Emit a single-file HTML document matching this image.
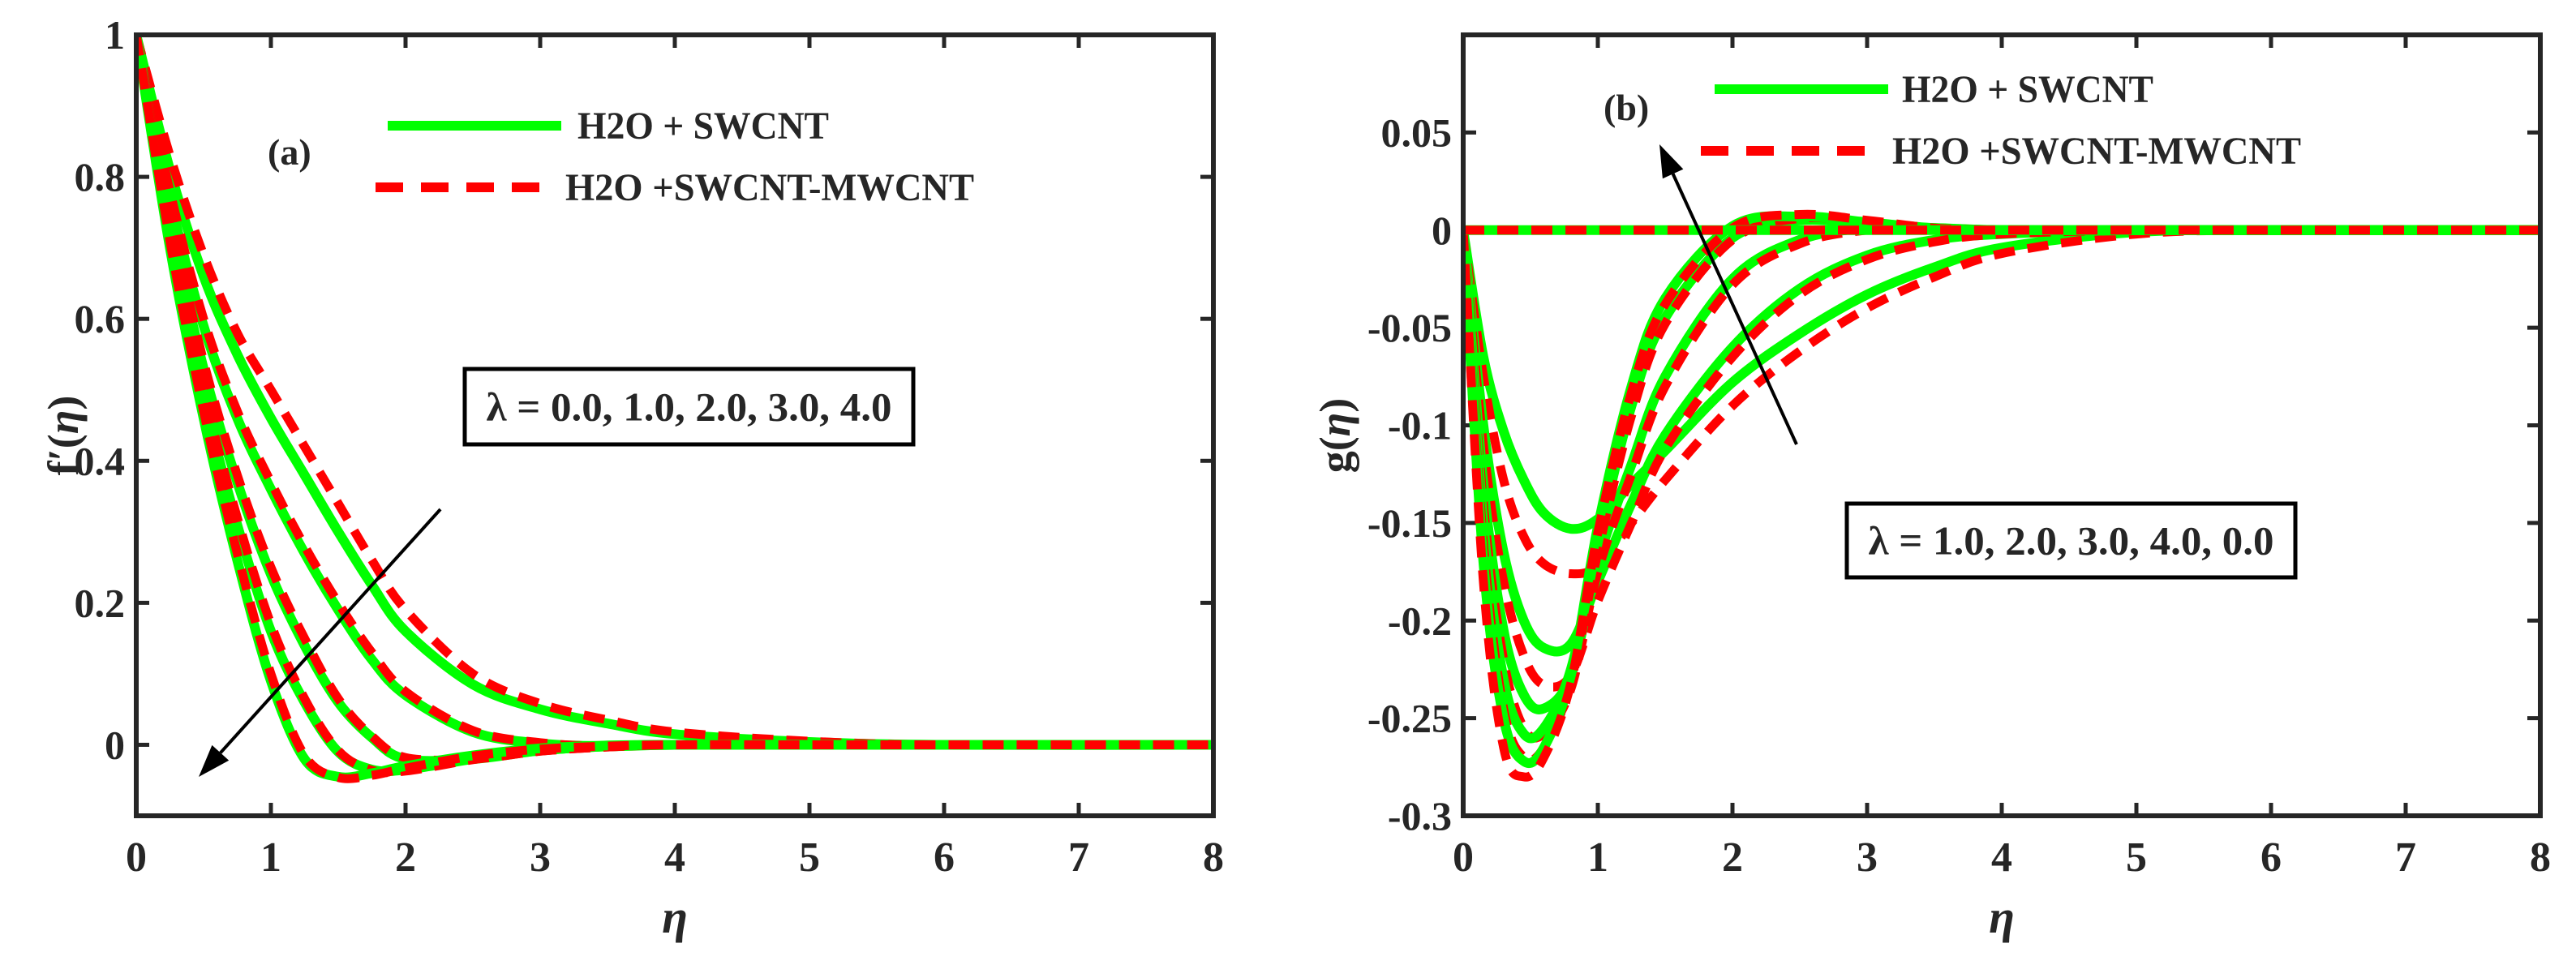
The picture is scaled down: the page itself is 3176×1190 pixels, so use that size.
<!DOCTYPE html>
<html><head><meta charset="utf-8"><style>
html,body{margin:0;padding:0;background:#fff;}
svg{display:block;}
text{font-family:"Liberation Serif",serif;font-weight:bold;fill:#262626;}
</style></head>
<body>
<svg id="fig" width="3176" height="1190" viewBox="0 0 3176 1190" xmlns="http://www.w3.org/2000/svg">
<g id="pa"></g>
<g id="pb"></g>
</svg>
<script>
// ---- Panel (a) data ----
const etaA = [0,0.25,0.5,0.75,1,1.25,1.5,1.75,2,2.5,3,3.5,4,5,6,8];
const fA_g1 = [1,0.81,0.66,0.55,0.46,0.38,0.3,0.225,0.16,0.085,0.05,0.03,0.015,0.004,0,0];
const fA_r1 = [1,0.83,0.69,0.58,0.5,0.42,0.34,0.26,0.19,0.1,0.058,0.035,0.018,0.005,0,0];
const fA_g2 = [1,0.77,0.59,0.46,0.36,0.27,0.19,0.12,0.07,0.018,0.002,-0.002,0,0,0,0];
const fA_r2 = [1,0.78,0.6,0.47,0.37,0.28,0.2,0.13,0.075,0.02,0.003,-0.002,0,0,0,0];
const fA_g3 = [1,0.74,0.53,0.37,0.24,0.14,0.06,0.01,-0.02,-0.02,-0.008,-0.002,0,0,0,0];
const fA_r3 = [1,0.75,0.54,0.38,0.25,0.15,0.065,0.012,-0.018,-0.02,-0.009,-0.003,0,0,0,0];
const fA_g4 = [1,0.72,0.49,0.31,0.16,0.06,-0.01,-0.035,-0.035,-0.02,-0.008,-0.002,0,0,0,0];
const fA_r4 = [1,0.73,0.5,0.32,0.17,0.065,-0.008,-0.036,-0.037,-0.021,-0.009,-0.003,0,0,0,0];
const fA_g5 = [1,0.7,0.46,0.26,0.09,-0.02,-0.045,-0.04,-0.03,-0.015,-0.005,-0.001,0,0,0,0];
const fA_r5 = [1,0.71,0.47,0.27,0.1,-0.015,-0.046,-0.043,-0.033,-0.016,-0.006,-0.002,0,0,0,0];
const xTicks = [0,1,2,3,4,5,6,7,8];
const yTicksA = [0,0.2,0.4,0.6,0.8,1];
const yTickLabelsA = ["0","0.2","0.4","0.6","0.8","1"];
// ---- Panel (b) data ----
const etaB = [0,0.15,0.3,0.45,0.6,0.8,1,1.25,1.5,2,2.5,3,3.5,4,5,6,8];
const gB_0 = [0,0,0,0,0,0,0,0,0,0,0,0,0,0,0,0,0];
const gB_g1 = [0,-0.065,-0.103,-0.128,-0.145,-0.153,-0.148,-0.13,-0.113,-0.078,-0.053,-0.033,-0.019,-0.009,-0.001,0,0];
const gB_r1 = [0,-0.075,-0.128,-0.157,-0.171,-0.176,-0.172,-0.15,-0.128,-0.09,-0.062,-0.04,-0.024,-0.012,-0.002,0,0];
const gB_g2 = [0,-0.1,-0.165,-0.2,-0.214,-0.212,-0.18,-0.14,-0.105,-0.06,-0.03,-0.013,-0.005,-0.002,0,0,0];
const gB_r2 = [0,-0.11,-0.18,-0.218,-0.233,-0.228,-0.19,-0.15,-0.112,-0.065,-0.033,-0.015,-0.006,-0.002,0,0,0];
const gB_g3 = [0,-0.13,-0.205,-0.238,-0.245,-0.228,-0.17,-0.12,-0.075,-0.025,-0.005,0.001,0.001,0,0,0,0];
const gB_r3 = [0,-0.14,-0.22,-0.255,-0.258,-0.235,-0.175,-0.125,-0.08,-0.028,-0.007,0,0.001,0,0,0,0];
const gB_g4 = [0,-0.15,-0.23,-0.258,-0.255,-0.225,-0.16,-0.09,-0.045,-0.004,0.005,0.003,0.001,0,0,0,0];
const gB_r4 = [0,-0.16,-0.245,-0.27,-0.265,-0.232,-0.165,-0.095,-0.048,-0.005,0.006,0.004,0.001,0,0,0,0];
const gB_g5 = [0,-0.17,-0.25,-0.272,-0.265,-0.228,-0.152,-0.08,-0.035,0.002,0.007,0.004,0.001,0,0,0,0];
const gB_r5 = [0,-0.18,-0.265,-0.28,-0.27,-0.232,-0.155,-0.083,-0.038,0.001,0.008,0.005,0.001,0,0,0,0];
const yTicksB = [-0.3,-0.25,-0.2,-0.15,-0.1,-0.05,0,0.05];
const yTickLabelsB = ["-0.3","-0.25","-0.2","-0.15","-0.1","-0.05","0","0.05"];

const NS="http://www.w3.org/2000/svg";
function mk(tag, attrs, parent){const e=document.createElementNS(NS,tag);for(const k in attrs)e.setAttribute(k,attrs[k]);parent.appendChild(e);return e;}

function smoothPath(xs, ys, sx, sy){
  const P = xs.map((x,i)=>[sx(x), sy(ys[i])]);
  let d = "M"+P[0][0].toFixed(1)+","+P[0][1].toFixed(1);
  for(let i=0;i<P.length-1;i++){
    const p0=P[Math.max(0,i-1)],p1=P[i],p2=P[i+1],p3=P[Math.min(P.length-1,i+2)];
    const c1=[p1[0]+(p2[0]-p0[0])/6,p1[1]+(p2[1]-p0[1])/6];
    const c2=[p2[0]-(p3[0]-p1[0])/6,p2[1]-(p3[1]-p1[1])/6];
    d+=" C"+c1[0].toFixed(1)+","+c1[1].toFixed(1)+" "+c2[0].toFixed(1)+","+c2[1].toFixed(1)+" "+p2[0].toFixed(1)+","+p2[1].toFixed(1);
  }
  return d;
}

function panel(g, L, R, T, B, ymin, ymax, yTicks, yLabels){
  const sx = v => L + (v-0)/(8-0)*(R-L);
  const sy = v => B - (v-ymin)/(ymax-ymin)*(B-T);
  xTicks.forEach(v=>{
    const x=sx(v);
    const t1=mk('line',{x1:x,x2:x,y1:B,y2:B-16,stroke:'#262626','stroke-width':5},g);
    
    
    const t2=mk('line',{x1:x,x2:x,y1:T,y2:T+16,stroke:'#262626','stroke-width':5},g);
    
    
    const lb=mk('text',{x:x,y:B+68,'text-anchor':'middle','font-size':52},g);
    lb.textContent=String(v);
    
    
  });
  yTicks.forEach((v,i)=>{
    const y=sy(v);
    const t1=mk('line',{x1:L,x2:L+16,y1:y,y2:y,stroke:'#262626','stroke-width':5},g);
    
    
    const t2=mk('line',{x1:R,x2:R-16,y1:y,y2:y,stroke:'#262626','stroke-width':5},g);
    
    
    const lb=mk('text',{x:L-14,y:y+17,'text-anchor':'end','font-size':50},g);
    lb.textContent=yLabels[i];
    
    
  });
  return {sx,sy};
}

function frame(g,L,R,T,B){
  const f=mk('rect',{x:L,y:T,width:R-L,height:B-T,fill:'none',stroke:'#262626','stroke-width':6},g);
  
  
}

function drawPair(g, xs, gy, ry, sx, sy, clip){
  const pg=mk('path',{d:smoothPath(xs,gy,sx,sy),fill:'none',stroke:'#00ff00','stroke-width':12,'clip-path':clip},g);
  
  
  const pr=mk('path',{d:smoothPath(xs,ry,sx,sy),fill:'none',stroke:'#ff0000','stroke-width':11,'stroke-dasharray':'26,16','clip-path':clip},g);
  
  
}

function legend(g, x1, x2, xt, yg, yr, xr1, xr2, xtr){
  const lg=mk('line',{x1:x1,x2:x2,y1:yg,y2:yg,stroke:'#00ff00','stroke-width':12},g);
  
  
  const tg=mk('text',{x:xt,y:yg+16,'font-size':48,textLength:310,lengthAdjust:'spacingAndGlyphs'},g);
  tg.textContent='H2O + SWCNT';
  
  
  const lr=mk('line',{x1:xr1,x2:xr2,y1:yr,y2:yr,stroke:'#ff0000','stroke-width':12,'stroke-dasharray':'34,22'},g);
  
  
  const tr=mk('text',{x:xtr,y:yr+16,'font-size':48,textLength:504,lengthAdjust:'spacingAndGlyphs'},g);
  tr.textContent='H2O +SWCNT-MWCNT';
  
  
}

function arrow(g,x1,y1,x2,y2){
  const a=Math.atan2(y2-y1,x2-x1),h=40,w=14;
  const bx=x2-h*Math.cos(a),by=y2-h*Math.sin(a);
  const ln=mk('line',{x1:x1,y1:y1,x2:bx,y2:by,stroke:'#000','stroke-width':4},g);
  
  
  const pts=[[x2,y2],[bx+w*Math.sin(a),by-w*Math.cos(a)],[bx-w*Math.sin(a),by+w*Math.cos(a)]].map(p=>p.join(',')).join(' ');
  const hd=mk('polygon',{points:pts,fill:'#000'},g);
  
  
}

function annotBox(g,x,y,w,h,label){
  const r=mk('rect',{x:x,y:y,width:w,height:h,fill:'#fff',stroke:'#000','stroke-width':5},g);
  
  
  const t=mk('text',{x:x+w/2,y:y+h/2+17,'text-anchor':'middle','font-size':50,fill:'#000',textLength:500,lengthAdjust:'spacingAndGlyphs'},g);
  t.textContent=label;
  
  
}

// ---- Panel A ----
const ga=document.getElementById('pa');
const A={L:168,R:1496,T:43,B:1006};
const cpa=mk('clipPath',{id:'ca'},ga);
mk('rect',{x:A.L,y:A.T-8,width:A.R-A.L,height:A.B-A.T+8},cpa);
const axA=panel(ga,A.L,A.R,A.T,A.B,-0.1,1,yTicksA,yTickLabelsA);
[[fA_g1,fA_r1],[fA_g2,fA_r2],[fA_g3,fA_r3],[fA_g4,fA_r4],[fA_g5,fA_r5]].forEach(p=>drawPair(ga,etaA,p[0],p[1],axA.sx,axA.sy,'url(#ca)'));
frame(ga,A.L,A.R,A.T,A.B);
legend(ga,478,692,712,155,231,463,677,697);
const la=mk('text',{x:330,y:203,'font-size':46},ga); la.textContent='(a)';


annotBox(ga,573,455,553,93,'λ = 0.0, 1.0, 2.0, 3.0, 4.0');
arrow(ga,543,628,245,958);
const yla=mk('text',{x:0,y:0,'font-size':54,'text-anchor':'middle',transform:'translate(96,537) rotate(-90)'},ga);
yla.innerHTML='f′(<tspan font-style="italic">η</tspan>)';


const xla=mk('text',{x:(A.L+A.R)/2,y:1150,'font-size':58,'font-style':'italic','text-anchor':'middle'},ga); xla.textContent='η';



// ---- Panel B ----
const gb=document.getElementById('pb');
const Bp={L:1804,R:3132,T:43,B:1006};
const cpb=mk('clipPath',{id:'cb'},gb);
mk('rect',{x:Bp.L,y:Bp.T,width:Bp.R-Bp.L,height:Bp.B-Bp.T+8},cpb);
const axB=panel(gb,Bp.L,Bp.R,Bp.T,Bp.B,-0.3,0.1,yTicksB,yTickLabelsB);
[[gB_g1,gB_r1],[gB_g2,gB_r2],[gB_g3,gB_r3],[gB_g4,gB_r4],[gB_g5,gB_r5],[gB_0,gB_0]].forEach(p=>drawPair(gb,etaB,p[0],p[1],axB.sx,axB.sy,'url(#cb)'));
frame(gb,Bp.L,Bp.R,Bp.T,Bp.B);
legend(gb,2114,2328,2345,110,186,2097,2313,2333);
const lb2=mk('text',{x:1977,y:148,'font-size':46},gb); lb2.textContent='(b)';


annotBox(gb,2277,621,553,91,'λ = 1.0, 2.0, 3.0, 4.0, 0.0');
arrow(gb,2215,548,2046,178);
const ylb=mk('text',{x:0,y:0,'font-size':54,'text-anchor':'middle',transform:'translate(1664,537) rotate(-90)'},gb);
ylb.innerHTML='g(<tspan font-style="italic">η</tspan>)';


const xlb=mk('text',{x:(Bp.L+Bp.R)/2,y:1150,'font-size':58,'font-style':'italic','text-anchor':'middle'},gb); xlb.textContent='η';


</script>
</body></html>
